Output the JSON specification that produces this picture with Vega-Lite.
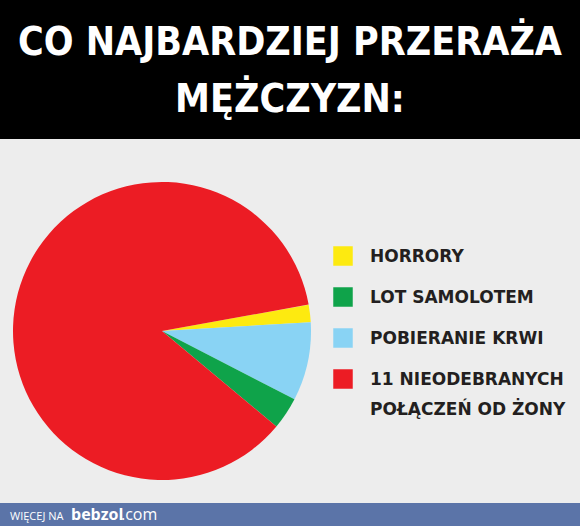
{
  "$schema": "https://vega.github.io/schema/vega-lite/v6.json",
  "description": "Co najbardziej przeraża mężczyzn - pie chart meme",
  "background": "#000000",
  "padding": {"top": 24, "left": 0, "right": 0, "bottom": 0},
  "spacing": 0,
  "title": {
    "text": ["CO NAJBARDZIEJ PRZERAŻA", "MĘŻCZYZN:"],
    "font": "DejaVu Sans Condensed",
    "fontSize": 39,
    "fontWeight": "bold",
    "color": "#ffffff",
    "anchor": "middle",
    "lineHeight": 57,
    "offset": 19
  },
  "datasets": {
    "slices": [
      {"label": "HORRORY", "share": 1.9, "slice": 1},
      {"label": "POBIERANIE KRWI", "share": 8.5, "slice": 2},
      {"label": "LOT SAMOLOTEM", "share": 3.5, "slice": 3},
      {"label": "11 NIEODEBRANYCH|POŁĄCZEŃ OD ŻONY", "share": 86.1, "slice": 4}
    ],
    "footer": [
      {"lead": "WIĘCEJ NA", "brand": "bebzol", "tld": ".com"}
    ]
  },
  "config": {"view": {"stroke": null}},
  "vconcat": [
    {
      "width": 580,
      "height": 364,
      "view": {"fill": "#ededed", "stroke": null},
      "data": {"name": "slices"},
      "layer": [
        {
          "mark": {"type": "arc", "radius": 149, "xOffset": -128, "yOffset": 10},
          "encoding": {
            "theta": {
              "field": "share",
              "type": "quantitative",
              "stack": true,
              "scale": {"range": [1.393, 7.676]}
            },
            "color": {
              "field": "label",
              "type": "nominal",
              "scale": {
                "domain": ["HORRORY", "LOT SAMOLOTEM", "POBIERANIE KRWI", "11 NIEODEBRANYCH|POŁĄCZEŃ OD ŻONY"],
                "range": ["#fdea10", "#0fa34a", "#89d3f4", "#ec1c24"]
              },
              "legend": null
            },
            "order": {"field": "slice", "type": "quantitative"}
          }
        },
        {
          "mark": {"type": "point", "shape": "square", "filled": true, "size": 380, "opacity": 1, "x": 343},
          "encoding": {
            "y": {
              "field": "label",
              "type": "nominal",
              "scale": {
                "type": "point",
                "padding": 0,
                "domain": ["HORRORY", "LOT SAMOLOTEM", "POBIERANIE KRWI", "11 NIEODEBRANYCH|POŁĄCZEŃ OD ŻONY"],
                "range": [117, 240]
              },
              "axis": null
            },
            "color": {"field": "label", "type": "nominal", "legend": null}
          }
        },
        {
          "mark": {
            "type": "text",
            "x": 370,
            "align": "left",
            "baseline": "alphabetic",
            "dy": 6,
            "font": "DejaVu Sans",
            "fontWeight": "bold",
            "fontSize": 17,
            "color": "#231f20",
            "lineBreak": "|",
            "lineHeight": 30
          },
          "encoding": {
            "y": {
              "field": "label",
              "type": "nominal",
              "scale": {
                "type": "point",
                "padding": 0,
                "domain": ["HORRORY", "LOT SAMOLOTEM", "POBIERANIE KRWI", "11 NIEODEBRANYCH|POŁĄCZEŃ OD ŻONY"],
                "range": [117, 240]
              },
              "axis": null
            },
            "text": {"field": "label"}
          }
        }
      ]
    },
    {
      "width": 580,
      "height": 24,
      "view": {"fill": "#5b74a8", "stroke": null},
      "data": {"name": "footer"},
      "layer": [
        {
          "mark": {"type": "text", "x": 10, "y": 17, "align": "left", "baseline": "alphabetic", "font": "Open Sans", "fontSize": 11, "color": "#ffffff"},
          "encoding": {"text": {"field": "lead"}}
        },
        {
          "mark": {"type": "text", "x": 71, "y": 17, "align": "left", "baseline": "alphabetic", "font": "Open Sans", "fontWeight": "bold", "fontSize": 16, "color": "#ffffff"},
          "encoding": {"text": {"field": "brand"}}
        },
        {
          "mark": {"type": "text", "x": 121, "y": 17, "align": "left", "baseline": "alphabetic", "font": "Open Sans", "fontSize": 16, "color": "#ffffff"},
          "encoding": {"text": {"field": "tld"}}
        }
      ]
    }
  ]
}
